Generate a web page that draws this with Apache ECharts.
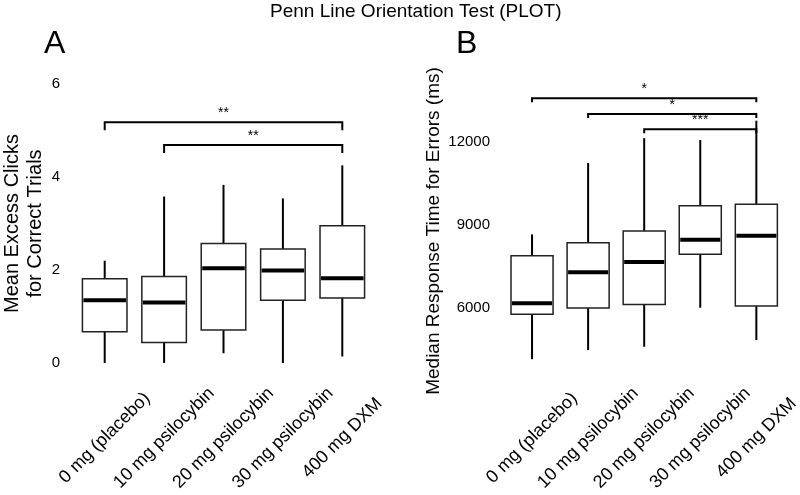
<!DOCTYPE html>
<html>
<head>
<meta charset="utf-8">
<script src="https://cdn.jsdelivr.net/npm/echarts@6/dist/echarts.min.js"></script>
<style>
html,body{margin:0;padding:0;background:#fff;}
#main{width:800px;height:495px;}
</style>
</head>
<body>
<div id="main"></div>
<script>
// categories shared by both panels
var groups = ['0 mg (placebo)', '10 mg psilocybin', '20 mg psilocybin', '30 mg psilocybin', '400 mg DXM'];

// panel A : mean excess clicks for correct trials
var aLow  = [0, 0, 0.21, 0, 0.14];
var aQ1   = [0.67, 0.44, 0.71, 1.35, 1.40];
var aMed  = [1.35, 1.30, 2.04, 1.99, 1.82];
var aQ3   = [1.81, 1.86, 2.57, 2.45, 2.95];
var aHigh = [2.20, 3.58, 3.83, 3.54, 4.25];
var aTicks = [0, 2, 4, 6];
// brackets: from group, to group, height, stars
var aFrom = [0, 1];
var aTo = [4, 4];
var aLevel = [5.18, 4.69];
var aStars = ['**', '**'];

// panel B : median response time for errors (ms)
var bLow  = [4150, 4480, 4600, 6010, 4840];
var bQ1   = [5770, 6000, 6130, 7940, 6070];
var bMed  = [6170, 7290, 7660, 8470, 8610];
var bQ3   = [7890, 8360, 8780, 9700, 9750];
var bHigh = [8660, 11240, 12140, 12070, 12770];
var bTicks = [6000, 9000, 12000];
var bFrom = [0, 1, 2];
var bTo = [4, 4, 4];
var bLevel = [13580, 13010, 12460];
var bStars = ['*', '*', '***'];

var FONT = '"Liberation Sans", Arial, sans-serif';

function boxRows(lo, q1, md, q3, hi){
	var rows = [];
	for(var i=0;i<lo.length;i++){
		rows.push([i, lo[i], q1[i], md[i], q3[i], hi[i]]);
	}
	return rows;
}
function bracketRows(from, to, lev){
	var rows = [];
	for(var i=0;i<from.length;i++){
		rows.push([from[i], to[i], lev[i]]);
	}
	return rows;
}

function renderBox(params, api){
	var i = api.value(0);
	var lo = api.coord([i, api.value(1)]);
	var q1 = api.coord([i, api.value(2)]);
	var md = api.coord([i, api.value(3)]);
	var q3 = api.coord([i, api.value(4)]);
	var hi = api.coord([i, api.value(5)]);
	var w = api.size([1, 0])[0] * 0.75;
	var cx = lo[0];
	return {
		type: 'group',
		children: [
			{type:'line', shape:{x1:cx, y1:hi[1], x2:cx, y2:q3[1]}, style:{stroke:'#000', lineWidth:2}},
			{type:'line', shape:{x1:cx, y1:q1[1], x2:cx, y2:lo[1]}, style:{stroke:'#000', lineWidth:2}},
			{type:'rect', shape:{x:cx-w/2, y:q3[1], width:w, height:q1[1]-q3[1]}, style:{fill:'#fff', stroke:'#222', lineWidth:1.5}},
			{type:'line', shape:{x1:cx-w/2+1, y1:md[1], x2:cx+w/2-1, y2:md[1]}, style:{stroke:'#000', lineWidth:4}}
		]
	};
}

function makeBracket(stars, tick){
	return function(params, api){
		var p1 = api.coord([api.value(0), api.value(2)]);
		var p2 = api.coord([api.value(1), api.value(2)]);
		return {
			type: 'group',
			children: [
				{type:'polyline', shape:{points:[[p1[0], p1[1]+tick],[p1[0], p1[1]],[p2[0], p2[1]],[p2[0], p2[1]+tick]]},
				 style:{stroke:'#000', lineWidth:2, fill:null}},
				{type:'text', style:{text:stars[params.dataIndex], x:(p1[0]+p2[0])/2, y:p1[1]-2,
				 align:'center', verticalAlign:'bottom', fontSize:14, fontFamily:FONT, fill:'#000'}}
			]
		};
	};
}

function xAxisFor(grid, margin){
	return {
		type: 'category', gridIndex: grid, data: groups, boundaryGap: true,
		axisLine:{show:false}, axisTick:{show:false}, splitLine:{show:false},
		axisLabel:{interval:0, rotate:45, align:'center', verticalAlign:'middle', margin:margin,
			fontSize:18, fontFamily:FONT, color:'#000'}
	};
}

var chart = echarts.init(document.getElementById('main'));
var option = {
	animation: false,
	backgroundColor: '#fff',
	title: [
		{text:'Penn Line Orientation Test (PLOT)', left:270, top:2, padding:0,
		 textStyle:{fontSize:19, fontWeight:'normal', fontFamily:FONT, color:'#000'}},
		{text:'A', left:44, top:28, padding:0, textStyle:{fontSize:32, fontWeight:'normal', fontFamily:FONT, color:'#000'}},
		{text:'B', left:456, top:28, padding:0, textStyle:{fontSize:32, fontWeight:'normal', fontFamily:FONT, color:'#000'}}
	],
	grid: [
		{left:72, width:300, top:84, bottom:132},
		{left:504, width:300, top:59, bottom:104}
	],
	xAxis: [xAxisFor(0, 75), xAxisFor(1, 47)],
	yAxis: [
		{
			type:'value', gridIndex:0, min:aTicks[0], max:aTicks[aTicks.length-1], interval:2,
			name:'Mean Excess Clicks\nfor Correct Trials', nameLocation:'middle', nameGap:28,
			nameTextStyle:{fontSize:20, lineHeight:23, fontFamily:FONT, color:'#000'},
			axisLine:{show:false}, axisTick:{show:false}, splitLine:{show:false},
			axisLabel:{margin:15, fontSize:15, fontFamily:FONT, color:'#000'}
		},
		{
			type:'value', gridIndex:1, min:3000, max:15000, interval:3000,
			name:'Median Response Time for Errors (ms)', nameLocation:'middle', nameGap:52,
			nameTextStyle:{fontSize:19, lineHeight:22, fontFamily:FONT, color:'#000', padding:[0,12,0,0]},
			axisLine:{show:false}, axisTick:{show:false}, splitLine:{show:false},
			axisLabel:{margin:14, fontSize:15, fontFamily:FONT, color:'#000',
				formatter:function(v){ return bTicks.indexOf(v) >= 0 ? String(v) : ''; }}
		}
	],
	series: [
		{type:'custom', xAxisIndex:0, yAxisIndex:0, renderItem:renderBox,
		 encode:{x:0, y:[1,2,3,4,5]}, data:boxRows(aLow, aQ1, aMed, aQ3, aHigh)},
		{type:'custom', xAxisIndex:0, yAxisIndex:0, renderItem:makeBracket(aStars, 8), clip:false,
		 encode:{x:[0,1], y:2}, data:bracketRows(aFrom, aTo, aLevel)},
		{type:'custom', xAxisIndex:1, yAxisIndex:1, renderItem:renderBox,
		 encode:{x:0, y:[1,2,3,4,5]}, data:boxRows(bLow, bQ1, bMed, bQ3, bHigh)},
		{type:'custom', xAxisIndex:1, yAxisIndex:1, renderItem:makeBracket(bStars, 4), clip:false,
		 encode:{x:[0,1], y:2}, data:bracketRows(bFrom, bTo, bLevel)}
	]
};
chart.setOption(option);
</script>
</body>
</html>
